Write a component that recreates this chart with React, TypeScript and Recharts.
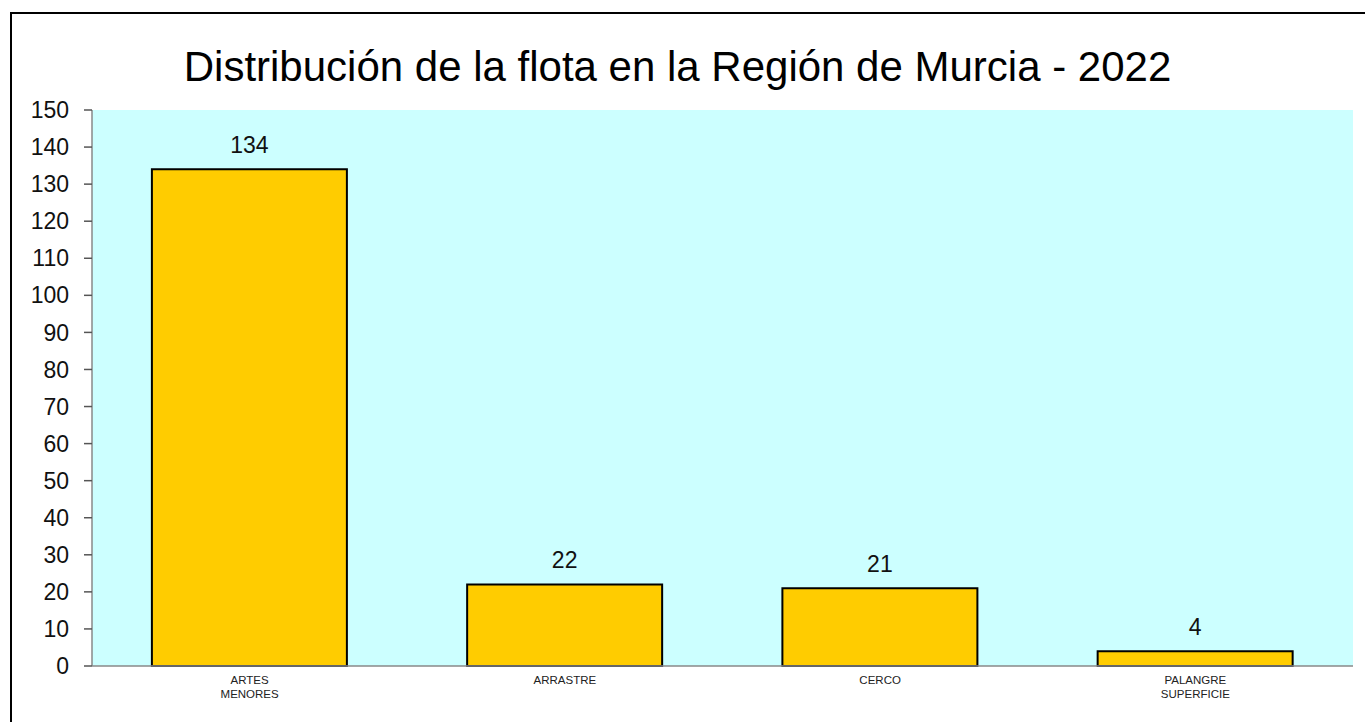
import type { FC } from 'react'
import { Bar, BarChart, CartesianGrid, LabelList, XAxis, YAxis } from 'recharts'

const categories = ['ARTES\nMENORES', 'ARRASTRE', 'CERCO', 'PALANGRE\nSUPERFICIE']
const boats = [134, 22, 21, 4]
const yTicks = [0, 10, 20, 30, 40, 50, 60, 70, 80, 90, 100, 110, 120, 130, 140, 150]

const data = categories.map((name, i) => ({ name, value: boats[i] }))

const FONT = 'Arial, "Liberation Sans", sans-serif'

interface TickProps {
  x?: number
  y?: number
  payload?: { value: string }
}

const CategoryTick: FC<TickProps> = ({ x = 0, y = 0, payload }) => {
  const lines = (payload?.value ?? '').split('\n')
  return (
    <text x={x} y={y} textAnchor="middle" fontSize={11.5} fill="#222" fontFamily={FONT}>
      {lines.map((line, i) => (
        <tspan key={i} x={x} dy={i === 0 ? 10 : 14}>
          {line}
        </tspan>
      ))}
    </text>
  )
}

const App: FC = () => (
  <div style={{ position: 'absolute', left: 0, top: 0, width: 1365, height: 722, overflow: 'hidden', background: '#fff' }}>
    <div
      style={{
        position: 'absolute',
        left: 10,
        top: 12,
        width: 1400,
        height: 800,
        border: '2px solid #000',
        boxSizing: 'border-box',
      }}
    />
    <div
      style={{
        position: 'absolute',
        left: 0,
        top: 39,
        width: 1355,
        textAlign: 'center',
        fontFamily: FONT,
        fontSize: 42,
        lineHeight: '56px',
        color: '#000',
      }}>
      Distribución de la flota en la Región de Murcia - 2022
    </div>
    <div style={{ position: 'absolute', left: 0, top: 0 }}>
      <BarChart width={1365} height={722} data={data} margin={{ top: 110, right: 12, bottom: 0, left: 0 }} barCategoryGap="19%">
        <CartesianGrid fill="#CCFFFF" stroke="none" horizontal={false} vertical={false} />
        <XAxis
          dataKey="name"
          axisLine={{ stroke: '#888', strokeWidth: 1.5 }}
          tickLine={false}
          tick={<CategoryTick />}
          interval={0}
          height={56}
        />
        <YAxis
          width={92}
          domain={[0, 150]}
          ticks={yTicks}
          interval={0}
          axisLine={{ stroke: '#888', strokeWidth: 1.5 }}
          tickLine={{ stroke: '#555', strokeWidth: 1.5 }}
          tickSize={8}
          tickMargin={15}
          tick={{ fontSize: 23, fill: '#111', fontFamily: FONT }}
        />
        <Bar dataKey="value" fill="#FFCC00" stroke="#000" strokeWidth={2} isAnimationActive={false}>
          <LabelList dataKey="value" position="top" offset={16} fontSize={23} fill="#111" fontFamily={FONT} />
        </Bar>
      </BarChart>
    </div>
  </div>
)

export default App
